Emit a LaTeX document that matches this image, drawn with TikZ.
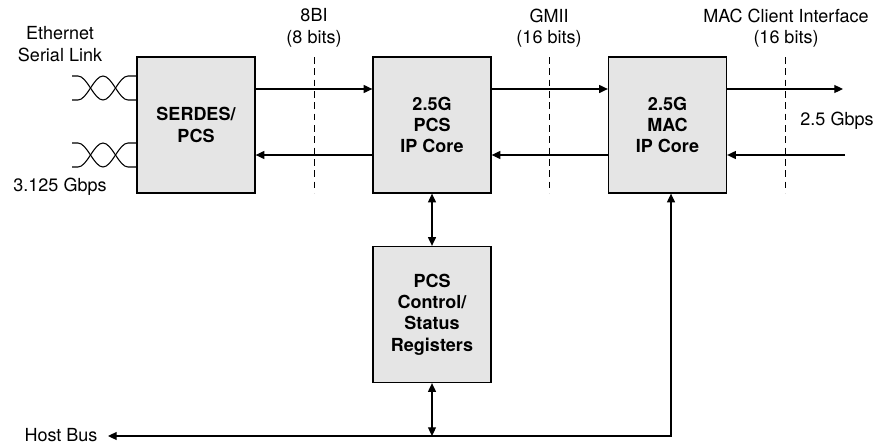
\documentclass[tikz,border=0pt]{standalone}
\usepackage{fontspec}
\setmainfont{TeX Gyre Heros}
\usepackage{tikz}
\usetikzlibrary{arrows.meta, positioning, calc}

\begin{document}
\begin{tikzpicture}[x=0.75pt, y=-0.75pt,
    font=\fontsize{13.5}{16}\selectfont,
    block/.style={draw, line width=1pt, fill=black!10, minimum width=88.5pt,
      minimum height=102pt, align=center, font=\fontsize{13.5}{16}\selectfont\bfseries},
    lbl/.style={align=center, inner sep=1pt},
    link/.style={line width=0.8pt, -{Triangle[length=6.5pt, width=6pt]}},
    dlink/.style={line width=0.8pt, {Triangle[length=6.5pt, width=6pt]}-{Triangle[length=6.5pt, width=6pt]}},
    cut/.style={line width=0.75pt, dash pattern=on 5pt off 3.5pt}]

  \useasboundingbox (0,0) rectangle (878,446);

  % Blocks
  \node[block] (serdes) at (196,125) {SERDES/\\PCS};
  \node[block] (pcs) at (432,125) {2.5G\\PCS\\IP Core};
  \node[block] (mac) at (667.5,125) {2.5G\\MAC\\IP Core};
  \node[block] (regs) at (432,314.5) {PCS\\Control/\\Status\\Registers};

  % Labels
  \node[lbl] (eth) at (60,44) {Ethernet\\Serial Link};
  \node[lbl] (rate) at (60,187) {3.125 Gbps};
  \node[lbl] (tbi) at (314,28) {8BI\\(8 bits)};
  \node[lbl] (gmii) at (549,28) {GMII\\(16 bits)};
  \node[lbl] (client) at (786,28) {MAC Client Interface\\(16 bits)};
  \node[lbl] (speed) at (837,121) {2.5 Gbps};
  \node[lbl] (host) at (61,435) {Host Bus};

  % Interface boundaries
  \foreach \x/\n in {314/a, 549/b, 785/c} {
    \coordinate (cut\n top) at (\x,57);
    \coordinate (cut\n bot) at (\x,193);
    \draw[cut] (cut\n top) -- (cut\n bot);
  }

  % Serial link pairs
  \foreach \y in {76,143} {
    \draw[line width=0.8pt] (72,\y) -- (78,\y) cos (90.5,\y+12) sin (103,\y+24)
      cos (115.5,\y+12) sin (128,\y) -- (137,\y);
    \draw[line width=0.8pt] (72,\y+24) -- (78,\y+24) cos (90.5,\y+12) sin (103,\y)
      cos (115.5,\y+12) sin (128,\y+24) -- (137,\y+24);
  }

  % Data path
  \draw[link] ([yshift=27pt]serdes.east) -- ([yshift=27pt]pcs.west);
  \draw[link] ([yshift=-22.5pt]pcs.west) -- ([yshift=-22.5pt]serdes.east);
  \draw[link] ([yshift=27pt]pcs.east) -- ([yshift=27pt]mac.west);
  \draw[link] ([yshift=-22.5pt]mac.west) -- ([yshift=-22.5pt]pcs.east);

  \coordinate (txout) at (843,89);
  \coordinate (rxin) at (845,155);
  \draw[link] ([yshift=27pt]mac.east) -- (txout);
  \draw[link] (rxin) -- ([yshift=-22.5pt]mac.east);

  % Management
  \coordinate (busL) at (108,436);
  \coordinate (busM) at (432,436);
  \coordinate (busR) at (671,436);
  \draw[dlink] (pcs.south) -- (regs.north);
  \draw[dlink] (regs.south) -- (busM);
  \draw[dlink] (busL) -- (busR) -- (busR |- mac.south);

\end{tikzpicture}
\end{document}
